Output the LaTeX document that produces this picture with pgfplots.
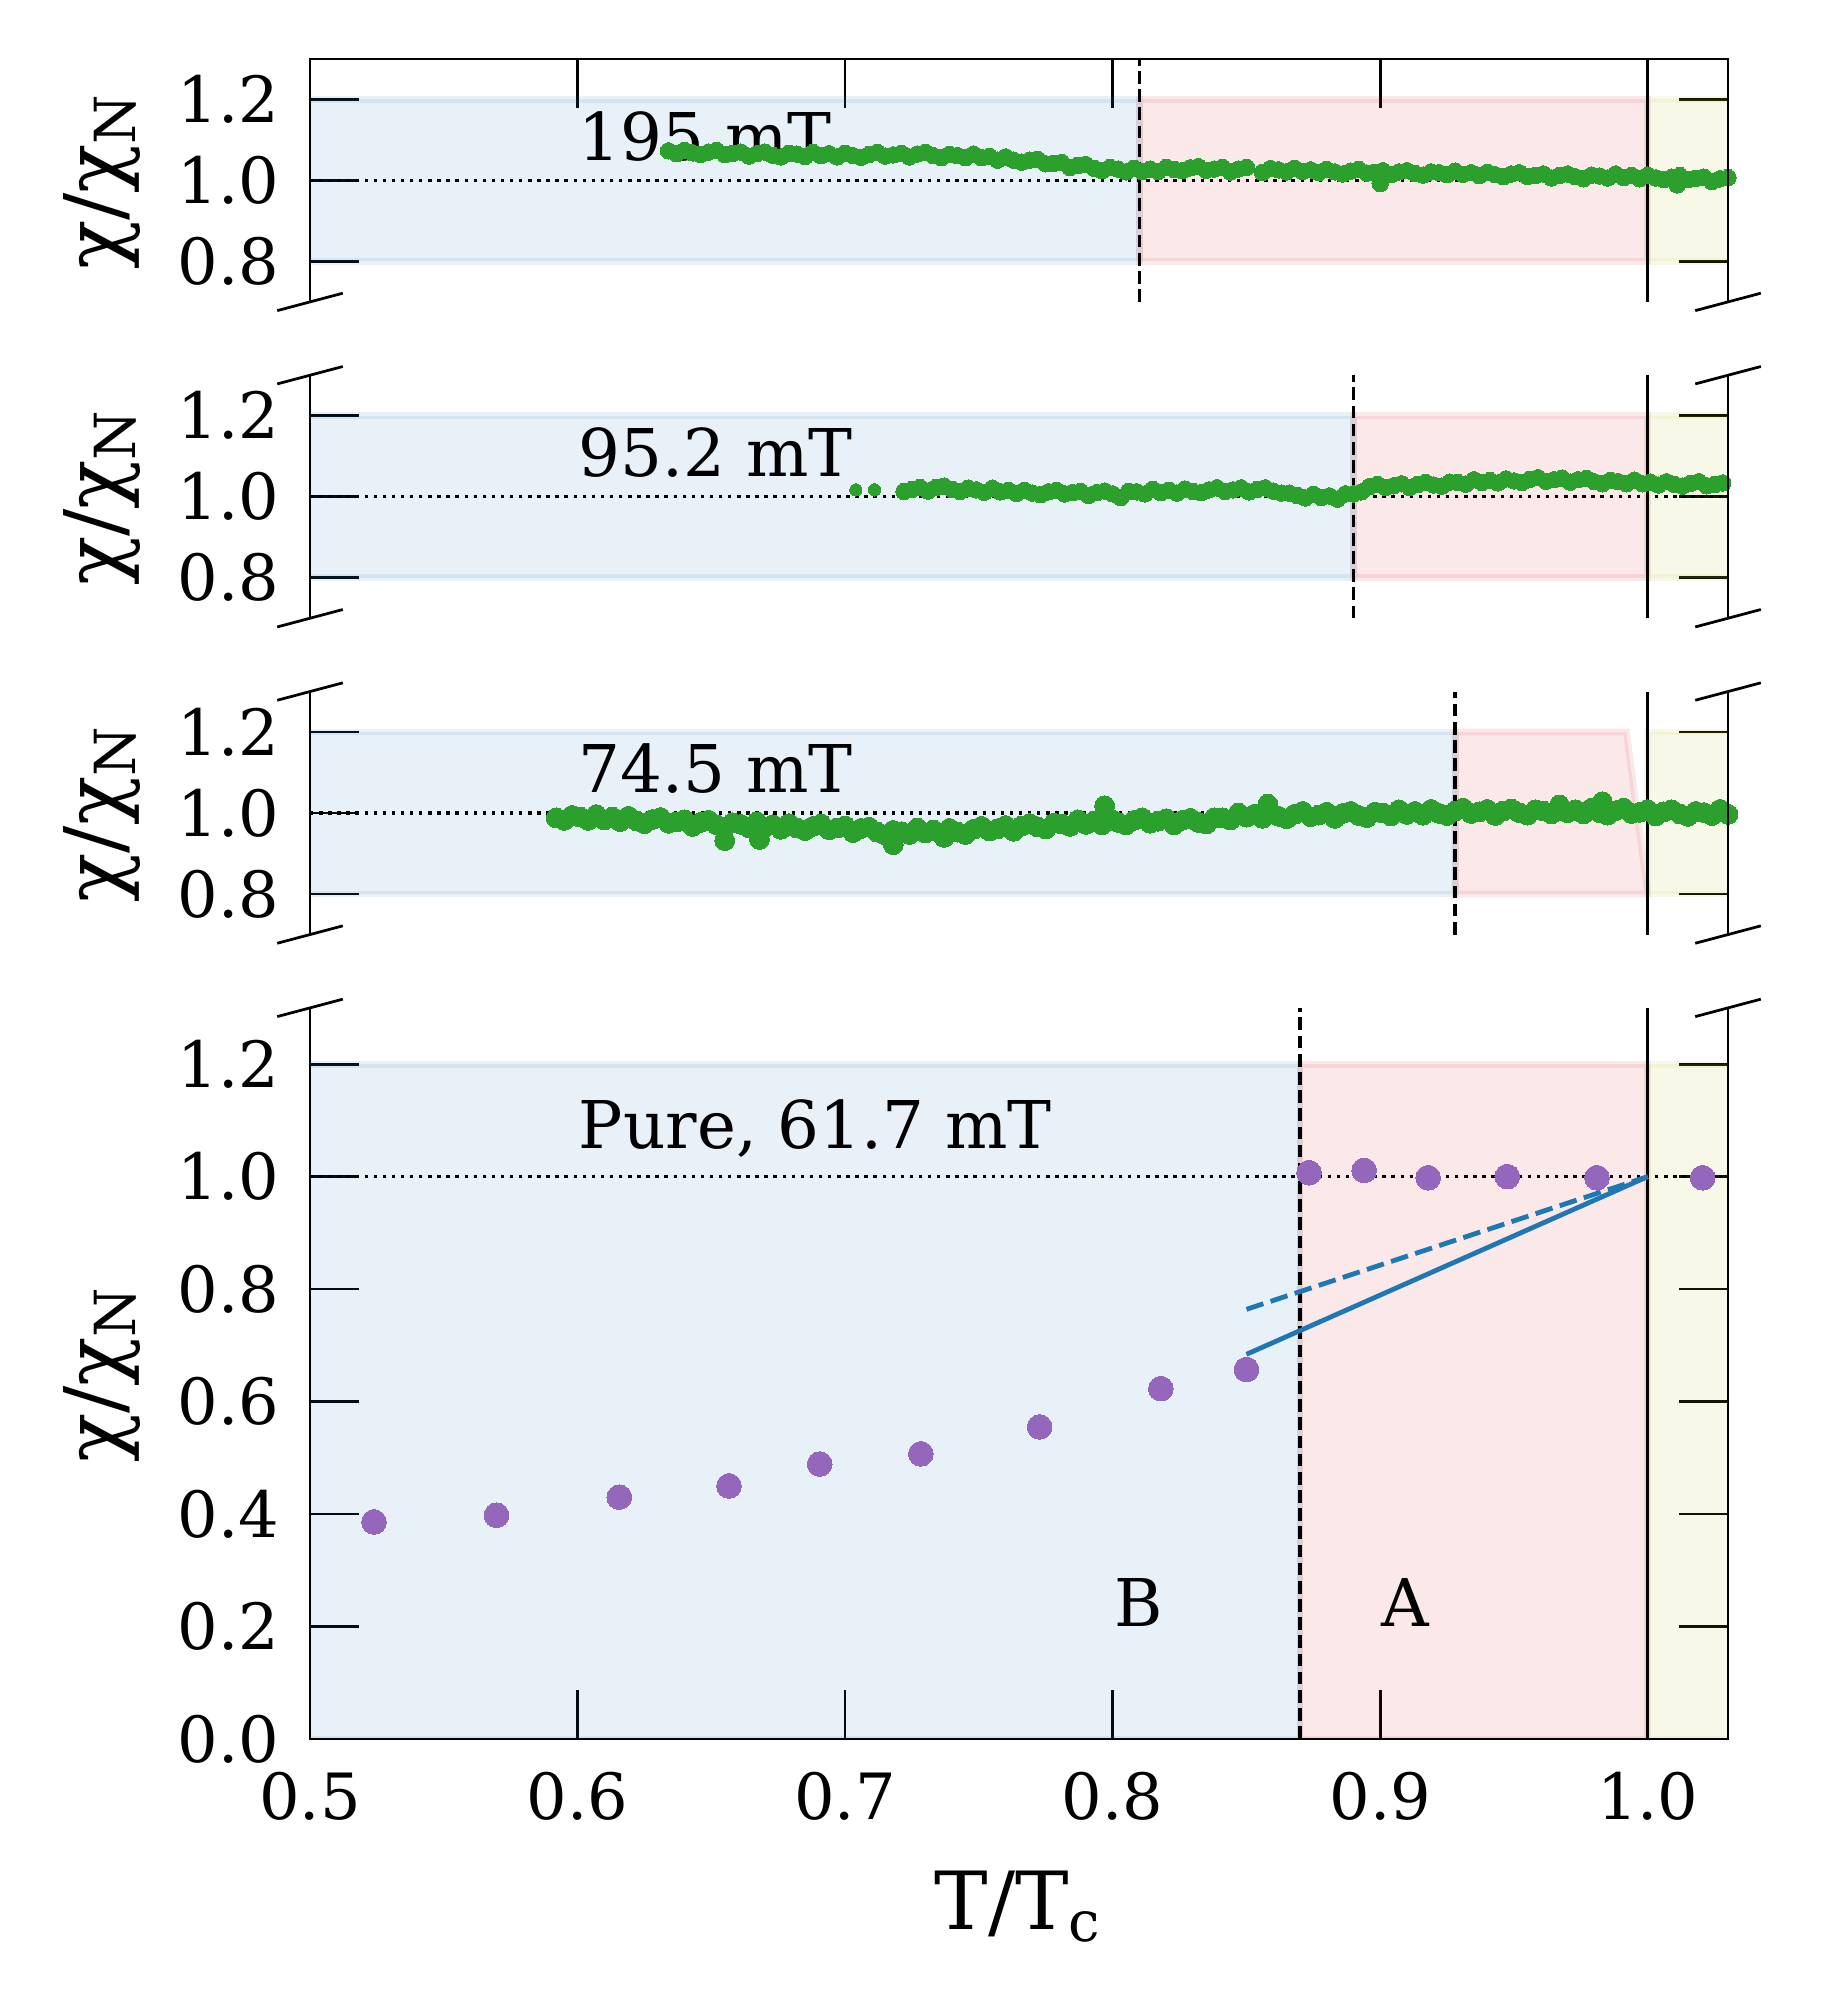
\documentclass[border=0pt]{standalone}
\usepackage{fontspec}
\setmainfont{DejaVu Serif}
\usepackage{pgfplots}
\usepackage{pgfplotstable}
\pgfplotsset{compat=1.18}
\definecolor{tabblue}{HTML}{1F77B4}
\definecolor{tabred}{HTML}{D62728}
\definecolor{tabolive}{HTML}{BCBD22}
\definecolor{tabgreen}{HTML}{2CA02C}
\definecolor{tabpurple}{HTML}{9467BD}

\pgfplotstableread{
x y
0.634 1.073
0.637 1.066
0.640 1.074
0.643 1.068
0.646 1.064
0.649 1.070
0.652 1.074
0.655 1.064
0.658 1.067
0.661 1.070
0.664 1.060
0.667 1.066
0.670 1.070
0.673 1.062
0.676 1.058
0.679 1.067
0.682 1.065
0.685 1.059
0.688 1.069
0.691 1.061
0.694 1.066
0.697 1.058
0.700 1.067
0.703 1.061
0.706 1.057
0.709 1.064
0.712 1.069
0.715 1.060
0.718 1.063
0.721 1.067
0.724 1.058
0.727 1.065
0.730 1.069
0.733 1.061
0.736 1.056
0.739 1.064
0.742 1.061
0.745 1.056
0.748 1.065
0.751 1.056
0.754 1.059
0.757 1.050
0.760 1.058
0.763 1.050
0.766 1.045
0.769 1.050
0.772 1.052
0.775 1.041
0.778 1.042
0.781 1.044
0.784 1.032
0.787 1.037
0.790 1.039
0.793 1.030
0.796 1.024
0.799 1.032
0.802 1.028
0.805 1.021
0.808 1.030
0.811 1.022
0.814 1.028
0.817 1.022
0.820 1.032
0.823 1.027
0.826 1.024
0.829 1.031
0.832 1.034
0.835 1.025
0.838 1.028
0.841 1.032
0.844 1.021
0.847 1.028
0.850 1.032
0.856 1.020
0.859 1.029
0.862 1.026
0.865 1.021
0.868 1.030
0.871 1.022
0.874 1.026
0.877 1.019
0.880 1.027
0.883 1.021
0.886 1.016
0.889 1.023
0.892 1.027
0.895 1.018
0.898 1.020
0.900 0.992
0.901 1.024
0.904 1.014
0.907 1.021
0.910 1.024
0.913 1.017
0.916 1.013
0.919 1.021
0.922 1.019
0.925 1.014
0.928 1.023
0.931 1.015
0.934 1.019
0.937 1.012
0.940 1.020
0.943 1.014
0.946 1.009
0.949 1.016
0.952 1.019
0.955 1.010
0.958 1.012
0.961 1.016
0.964 1.006
0.967 1.012
0.970 1.016
0.973 1.009
0.976 1.004
0.979 1.013
0.982 1.011
0.985 1.006
0.988 1.016
0.991 1.007
0.994 1.012
0.997 1.004
1.000 1.013
1.003 1.006
1.006 1.002
1.009 1.008
1.011 0.989
1.012 1.012
1.015 1.002
1.018 1.005
1.021 1.008
1.024 0.997
1.027 1.004
1.030 1.007
1.033 0.999
}\tabA

\pgfplotstableread{
x y
0.722 1.013
0.725 1.018
0.728 1.023
0.731 1.014
0.734 1.023
0.737 1.026
0.740 1.018
0.743 1.013
0.746 1.021
0.749 1.017
0.752 1.011
0.755 1.021
0.758 1.012
0.761 1.016
0.764 1.008
0.767 1.016
0.770 1.009
0.773 1.005
0.776 1.012
0.779 1.016
0.782 1.007
0.785 1.010
0.788 1.013
0.791 1.003
0.794 1.010
0.797 1.014
0.800 1.007
0.803 0.998
0.806 1.013
0.809 1.012
0.812 1.007
0.815 1.018
0.818 1.010
0.821 1.016
0.824 1.009
0.827 1.019
0.830 1.013
0.833 1.010
0.836 1.017
0.839 1.022
0.842 1.013
0.845 1.017
0.848 1.022
0.851 1.012
0.854 1.018
0.857 1.022
0.860 1.014
0.863 1.009
0.866 1.009
0.869 1.003
0.872 0.997
0.875 1.006
0.878 0.998
0.881 1.002
0.884 0.994
0.887 1.007
0.890 1.007
0.893 1.012
0.896 1.025
0.899 1.030
0.902 1.023
0.905 1.027
0.908 1.032
0.911 1.023
0.914 1.030
0.917 1.035
0.920 1.029
0.923 1.026
0.926 1.036
0.929 1.035
0.932 1.031
0.935 1.042
0.938 1.035
0.941 1.040
0.944 1.034
0.947 1.044
0.950 1.039
0.953 1.035
0.956 1.043
0.959 1.047
0.962 1.038
0.965 1.042
0.968 1.046
0.971 1.036
0.974 1.042
0.977 1.045
0.980 1.037
0.983 1.032
0.986 1.040
0.989 1.037
0.992 1.032
0.995 1.041
0.998 1.032
1.001 1.036
1.004 1.029
1.007 1.037
1.010 1.030
1.013 1.026
1.016 1.033
1.019 1.037
1.022 1.027
1.025 1.030
1.028 1.034
1.031 1.023
}\tabB

\pgfplotstableread{
x y
0.592 0.988
0.595 0.982
0.598 0.994
0.601 0.990
0.604 0.982
0.607 0.996
0.610 0.983
0.613 0.990
0.616 0.979
0.619 0.992
0.622 0.981
0.625 0.974
0.628 0.984
0.631 0.989
0.634 0.975
0.637 0.978
0.640 0.983
0.643 0.967
0.646 0.977
0.649 0.982
0.652 0.971
0.655 0.964
0.655 0.932
0.658 0.976
0.661 0.972
0.664 0.964
0.667 0.978
0.668 0.935
0.670 0.965
0.673 0.971
0.676 0.960
0.679 0.974
0.682 0.963
0.685 0.957
0.688 0.967
0.691 0.973
0.694 0.959
0.697 0.963
0.700 0.968
0.703 0.952
0.706 0.962
0.709 0.965
0.712 0.953
0.715 0.946
0.718 0.957
0.718 0.922
0.721 0.954
0.724 0.947
0.727 0.963
0.730 0.951
0.733 0.958
0.736 0.948
0.737 0.940
0.739 0.962
0.742 0.953
0.745 0.947
0.748 0.960
0.751 0.967
0.754 0.956
0.757 0.961
0.760 0.969
0.763 0.955
0.766 0.968
0.769 0.974
0.772 0.966
0.775 0.961
0.778 0.975
0.781 0.973
0.784 0.967
0.787 0.983
0.790 0.972
0.793 0.980
0.796 0.971
0.797 1.018
0.799 0.986
0.802 0.977
0.805 0.971
0.808 0.982
0.811 0.988
0.814 0.975
0.817 0.980
0.820 0.986
0.823 0.971
0.826 0.982
0.829 0.987
0.832 0.977
0.835 0.973
0.838 0.988
0.841 0.988
0.844 0.983
0.847 1.000
0.850 0.990
0.853 0.997
0.856 0.987
0.858 1.022
0.859 1.002
0.862 0.992
0.865 0.986
0.868 0.997
0.871 1.004
0.874 0.991
0.877 0.995
0.880 1.002
0.883 0.987
0.886 0.999
0.889 1.004
0.892 0.994
0.895 0.989
0.898 1.002
0.901 1.000
0.904 0.993
0.907 1.008
0.910 0.997
0.913 1.004
0.916 0.995
0.919 1.009
0.922 0.999
0.925 0.994
0.928 1.005
0.931 1.012
0.934 0.999
0.937 1.003
0.940 1.009
0.943 0.994
0.946 1.005
0.949 1.010
0.952 1.001
0.955 0.995
0.958 1.008
0.961 1.005
0.964 0.998
0.967 1.020
0.970 1.001
0.973 1.008
0.976 0.998
0.979 1.012
0.982 1.001
0.983 1.028
0.985 0.995
0.988 1.006
0.991 1.012
0.994 0.999
0.997 1.002
1.000 1.008
1.003 0.993
1.006 1.003
1.009 1.008
1.012 0.998
1.015 0.992
1.018 1.004
1.021 1.001
1.024 0.994
1.027 1.009
1.030 0.997
}\tabC

\pgfplotsset{
  panel/.style={
    scale only axis, width=206.75pt, xmin=0.5, xmax=1.03,
    axis line style={draw=none},
    tick align=inside, major tick length=7.2pt,
    tick style={black, line width=0.4pt},
    ytick pos=both, yticklabel pos=left,
    ticklabel style={font=\fontsize{9.3}{11}\selectfont},
    xticklabel style={yshift=-1.3pt},
    yticklabel style={xshift=-1pt},
    /pgf/number format/fixed, /pgf/number format/fixed zerofill,
    /pgf/number format/precision=1, /pgf/number format/assume math mode=true,
    every axis y label/.style={at={(axis description cs:-0.147,0.5)}, rotate=90, anchor=center, font=\fontsize{11.8}{14}\selectfont},
    every axis x label/.style={at={(axis description cs:0.5,-0.26)}, anchor=base, font=\fontsize{11.7}{14}\selectfont},
    ylabel={χ/χ\textsubscript{N}},
  },
  bfill/.style={fill=tabblue, fill opacity=0.1, draw=tabblue, draw opacity=0.1, line width=1pt},
  rfill/.style={fill=tabred, fill opacity=0.1, draw=tabred, draw opacity=0.1, line width=1pt},
  ofill/.style={fill=tabolive, fill opacity=0.1, draw=tabolive, draw opacity=0.1, line width=1pt},
  gpts/.style={only marks, mark=*, mark size=1.2pt, mark options={draw=tabgreen, fill=tabgreen, line width=0pt}},
  hdot/.style={black, line width=0.5pt, dash pattern=on 0.5pt off 0.825pt},
  vdash/.style={black, line width=0.5pt, dash pattern=on 1.85pt off 0.8pt},
  vsol/.style={black, line width=0.5pt},
}
\tikzset{ptxt/.style={anchor=base west, inner sep=0pt, font=\fontsize{9.6}{12}\selectfont}}
\newcommand{\brk}[1]{\draw[line width=0.4pt] ([shift={(-4.78pt,-1.27pt)}]#1) -- ([shift={(4.78pt,1.27pt)}]#1);}

\begin{document}
\begin{tikzpicture}
\path[use as bounding box] (0,0) rectangle (265.5pt,292.33pt);

% Panel 1
\begin{axis}[panel, name=p1, anchor=south west, at={(45.2pt,248.31pt)}, height=35.43pt,
  ymin=0.7, ymax=1.3, ytick={0.8,1.0,1.2},
  xtick={0.5,0.6,0.7,0.8,0.9,1.0}, xtick pos=right, xticklabels={,,,,,}]
\addplot[bfill] coordinates {(0.45,0.8) (0.81,0.8) (0.81,1.2) (0.45,1.2)} -- cycle;
\addplot[rfill] coordinates {(0.81,0.8) (1.0,0.8) (1.0,1.2) (0.81,1.2)} -- cycle;
\addplot[ofill] coordinates {(1.0,0.8) (1.06,0.8) (1.06,1.2) (1.0,1.2)} -- cycle;
\addplot[gpts] table {\tabA};
\addplot[hdot] coordinates {(0.5,1) (1.03,1)};
\addplot[vdash] coordinates {(0.81,0.7) (0.81,1.3)};
\addplot[vsol] coordinates {(1.0,0.7) (1.0,1.3)};
\node[ptxt] at (axis cs:0.6,1.05) {195 mT};
\end{axis}

% Panel 2
\begin{axis}[panel, name=p2, anchor=south west, at={(45.2pt,202.19pt)}, height=35.43pt,
  ymin=0.7, ymax=1.3, ytick={0.8,1.0,1.2}, xtick=\empty]
\addplot[bfill] coordinates {(0.45,0.8) (0.89,0.8) (0.89,1.2) (0.45,1.2)} -- cycle;
\addplot[rfill] coordinates {(0.89,0.8) (1.0,0.8) (1.0,1.2) (0.89,1.2)} -- cycle;
\addplot[ofill] coordinates {(1.0,0.8) (1.06,0.8) (1.06,1.2) (1.0,1.2)} -- cycle;
\addplot[gpts, mark size=0.9pt] coordinates {(0.704,1.017) (0.711,1.017)};
\addplot[gpts] table {\tabB};
\addplot[hdot] coordinates {(0.5,1) (1.03,1)};
\addplot[vdash] coordinates {(0.89,0.7) (0.89,1.3)};
\addplot[vsol] coordinates {(1.0,0.7) (1.0,1.3)};
\node[ptxt] at (axis cs:0.6,1.05) {95.2 mT};
\end{axis}

% Panel 3
\begin{axis}[panel, name=p3, anchor=south west, at={(45.2pt,156.07pt)}, height=35.43pt,
  ymin=0.7, ymax=1.3, ytick={0.8,1.0,1.2}, xtick=\empty]
\addplot[bfill] coordinates {(0.45,0.8) (0.928,0.8) (0.928,1.2) (0.45,1.2)} -- cycle;
\addplot[rfill] coordinates {(0.928,0.8) (1.0,0.8) (0.992,1.2) (0.928,1.2)} -- cycle;
\addplot[ofill] coordinates {(1.0,0.8) (1.06,0.8) (1.06,1.2) (1.0,1.2)} -- cycle;
\addplot[gpts, mark size=1.45pt] table {\tabC};
\addplot[hdot] coordinates {(0.5,1) (1.03,1)};
\addplot[vdash] coordinates {(0.928,0.7) (0.928,1.3)};
\addplot[vsol] coordinates {(1.0,0.7) (1.0,1.3)};
\node[ptxt] at (axis cs:0.6,1.05) {74.5 mT};
\end{axis}

% Panel 4
\begin{axis}[panel, name=p4, anchor=south west, at={(45.2pt,38.78pt)}, height=106.6pt,
  ymin=0, ymax=1.3, ytick={0,0.2,0.4,0.6,0.8,1.0,1.2},
  xtick={0.5,0.6,0.7,0.8,0.9,1.0}, xtick pos=left,
  xlabel={T/T\textsubscript{c}}]
\addplot[bfill] coordinates {(0.45,0) (0.87,0) (0.87,1.2) (0.45,1.2)} -- cycle;
\addplot[rfill] coordinates {(0.87,0) (1.0,0) (1.0,1.2) (0.87,1.2)} -- cycle;
\addplot[ofill] coordinates {(1.0,0) (1.06,0) (1.06,1.2) (1.0,1.2)} -- cycle;
\addplot[hdot] coordinates {(0.5,1) (1.03,1)};
\addplot[vdash] coordinates {(0.87,0) (0.87,1.3)};
\addplot[vsol] coordinates {(1.0,0) (1.0,1.3)};
\addplot[tabblue, line width=0.7pt] coordinates {(0.85,0.684) (1.0,1.0)};
\addplot[tabblue, line width=0.7pt, dash pattern=on 2.6pt off 1.1pt] coordinates {(0.85,0.764) (1.0,1.0)};
\addplot[only marks, mark=*, mark size=1.8pt, mark options={draw=tabpurple, fill=tabpurple, line width=0pt}] coordinates {
(0.5239,0.386) (0.5697,0.398) (0.6156,0.430) (0.6566,0.450) (0.6905,0.489)
(0.7283,0.507) (0.7727,0.555) (0.818,0.623) (0.850,0.657) (0.8734,1.007)
(0.894,1.011) (0.9179,0.998) (0.9475,1.0) (0.981,0.998) (1.0205,0.998)};
\node[ptxt] at (axis cs:0.6,1.05) {Pure, 61.7 mT};
\node[ptxt] at (axis cs:0.8,0.2) {B};
\node[ptxt] at (axis cs:0.9,0.2) {A};
\end{axis}

% spines
\draw[line width=0.4pt] (p1.south west) -- (p1.north west) -- (p1.north east) -- (p1.south east);
\draw[line width=0.4pt] (p2.south west) -- (p2.north west) (p2.south east) -- (p2.north east);
\draw[line width=0.4pt] (p3.south west) -- (p3.north west) (p3.south east) -- (p3.north east);
\draw[line width=0.4pt] (p4.north west) -- (p4.south west) -- (p4.south east) -- (p4.north east);
% break marks
\brk{p1.south west}\brk{p1.south east}
\brk{p2.north west}\brk{p2.north east}\brk{p2.south west}\brk{p2.south east}
\brk{p3.north west}\brk{p3.north east}\brk{p3.south west}\brk{p3.south east}
\brk{p4.north west}\brk{p4.north east}
\end{tikzpicture}
\end{document}
